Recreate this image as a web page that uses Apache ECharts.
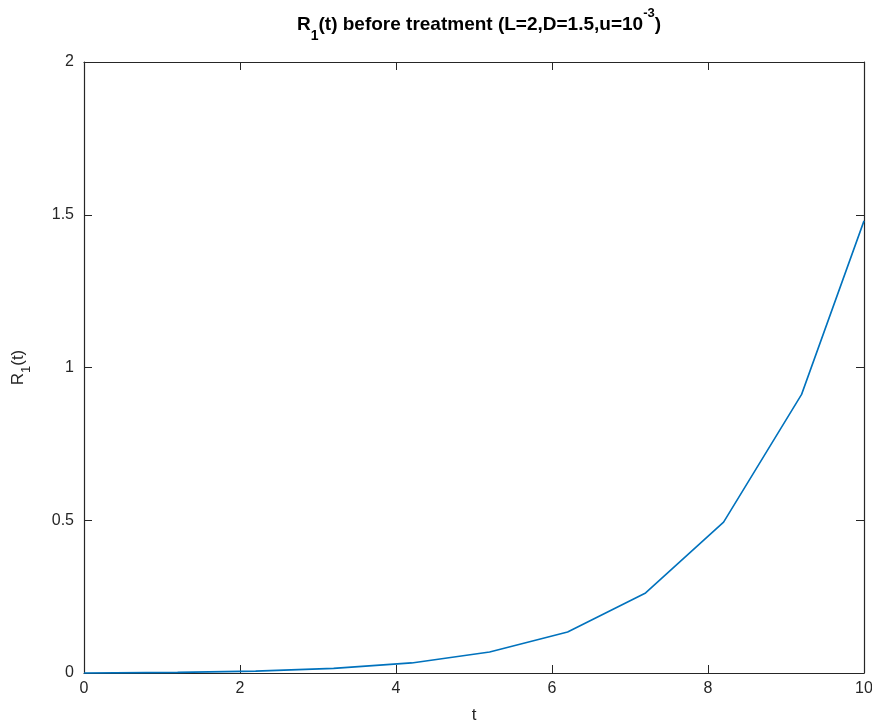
<!DOCTYPE html>
<html>
<head>
<meta charset="utf-8">
<script src="https://cdn.jsdelivr.net/npm/echarts@6/dist/echarts.min.js"></script>
<style>
html,body{margin:0;padding:0;background:#fff;}
#chart{width:872px;height:722px;}
</style>
</head>
<body>
<div id="chart"></div>
<script>
// t values and R1(t)
const tVals = [0, 1.2, 2.2, 3.2, 4.2, 5.2, 6.2, 7.2, 8.2, 9.2, 10];
const r1Vals = [0, 0.002, 0.006, 0.015, 0.033, 0.069, 0.134, 0.262, 0.494, 0.912, 1.48];
const xTicks = [0, 2, 4, 6, 8, 10];
const yTicks = [0, 0.5, 1, 1.5, 2];

const axisColor = '#262626';
const font = 'Liberation Sans, Arial, Helvetica, sans-serif';

let myChart = echarts.init(document.getElementById('chart'));

// box around the plot: top and right axes only carry ticks
let boxAxis = {
    axisLine: {show: true, onZero: false, lineStyle: {color: axisColor, width: 1.2}},
    axisTick: {show: true, inside: true, length: 8, lineStyle: {color: axisColor}},
    axisLabel: {show: false},
    splitLine: {show: false}
};

let option = {
    animation: false,
    title: {
        text: '{b|R}{bs|1}{b|(t) before treatment (L=2,D=1.5,u=10}{bp|-3}{b|)}',
        left: 474,
        textAlign: 'center',
        top: 5,
        textStyle: {
            rich: {
                b: {fontFamily: font, fontSize: 19, fontWeight: 'bold', color: '#000', lineHeight: 30, verticalAlign: 'middle'},
                bs: {fontFamily: font, fontSize: 14, fontWeight: 'bold', color: '#000', lineHeight: 30, verticalAlign: 'bottom', padding: [0, 0, -3, 0]},
                bp: {fontFamily: font, fontSize: 13, fontWeight: 'bold', color: '#000', lineHeight: 30, verticalAlign: 'top', padding: [-3, 0, 0, 0]}
            }
        }
    },
    grid: {
        left: 84,
        right: 8,
        top: 62,
        bottom: 49,
        outerBoundsMode: 'none'
    },
    xAxis: [
        {
            type: 'value',
            min: 0,
            max: 10,
            interval: 2,
            name: 't',
            nameLocation: 'middle',
            nameGap: 34,
            nameTextStyle: {fontFamily: font, fontSize: 17, color: axisColor},
            axisLine: {onZero: false, lineStyle: {color: axisColor, width: 1.2}},
            axisTick: {inside: true, length: 8, lineStyle: {color: axisColor}},
            axisLabel: {
                fontFamily: font, fontSize: 16, color: axisColor, margin: 8,
                formatter: v => xTicks.includes(v) ? String(v) : ''
            },
            splitLine: {show: false}
        },
        Object.assign({type: 'value', position: 'top', min: 0, max: 10, interval: 2}, boxAxis)
    ],
    yAxis: [
        {
            type: 'value',
            min: 0,
            max: 2,
            interval: 0.5,
            name: '{n|R}{s|1}{n|(t)}',
            nameLocation: 'middle',
            nameGap: 54,
            nameTextStyle: {
                rich: {
                    n: {fontFamily: font, fontSize: 17, color: axisColor, lineHeight: 24, verticalAlign: 'middle'},
                    s: {fontFamily: font, fontSize: 13, color: axisColor, lineHeight: 24, verticalAlign: 'bottom', padding: [0, 0, -3, 0]}
                }
            },
            axisLine: {show: true, onZero: false, lineStyle: {color: axisColor, width: 1.2}},
            axisTick: {inside: true, length: 8, lineStyle: {color: axisColor}},
            axisLabel: {
                fontFamily: font, fontSize: 16, color: axisColor, margin: 10,
                formatter: v => yTicks.includes(v) ? String(v) : ''
            },
            splitLine: {show: false}
        },
        Object.assign({type: 'value', position: 'right', min: 0, max: 2, interval: 0.5}, boxAxis)
    ],
    series: [
        {
            type: 'line',
            data: tVals.map((t, i) => [t, r1Vals[i]]),
            showSymbol: false,
            symbol: 'none',
            lineStyle: {color: '#0072BD', width: 1.6},
            clip: false
        }
    ]
};

myChart.setOption(option);
window.onresize = function () {
    myChart.resize();
};
</script>
</body>
</html>
